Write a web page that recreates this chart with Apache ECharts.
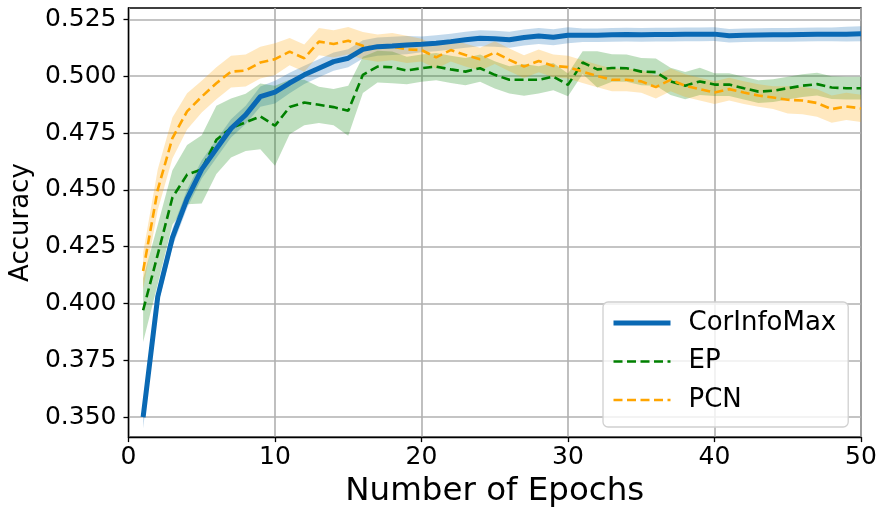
<!DOCTYPE html>
<html>
<head>
<meta charset="utf-8">
<script src="https://cdn.jsdelivr.net/npm/echarts@6/dist/echarts.min.js"></script>
<style>
html,body{margin:0;padding:0;background:#fff;}
#chart{width:881px;height:513px;}
</style>
</head>
<body>
<div id="chart"></div>
<script>
var epochs = [1,2,3,4,5,6,7,8,9,10,11,12,13,14,15,16,17,18,19,20,21,22,23,24,25,26,27,28,29,30,31,32,33,34,35,36,37,38,39,40,41,42,43,44,45,46,47,48,49,50];

var corinfomax = [0.350,0.403,0.429,0.446,0.459,0.468,0.477,0.483,0.491,0.493,0.497,0.5006,0.5035,0.5064,0.5079,0.5118,0.513,0.5133,0.5137,0.514,0.5145,0.5152,0.516,0.5167,0.5165,0.516,0.517,0.5177,0.5171,0.518,0.518,0.518,0.5182,0.5183,0.5182,0.5183,0.5183,0.5184,0.5184,0.5185,0.5178,0.518,0.5181,0.5182,0.5182,0.5183,0.5184,0.5184,0.5185,0.5187];
var corinfomaxStd = [0.005,0.004,0.004,0.004,0.004,0.004,0.004,0.004,0.0045,0.005,0.0045,0.004,0.004,0.004,0.004,0.004,0.004,0.004,0.004,0.0035,0.0035,0.0035,0.0035,0.0035,0.0035,0.0035,0.0035,0.0035,0.0035,0.0035,0.003,0.003,0.003,0.003,0.003,0.003,0.003,0.003,0.003,0.003,0.003,0.003,0.003,0.003,0.003,0.003,0.003,0.003,0.0032,0.0033];

var ep = [0.397,0.4216,0.4466,0.4567,0.459,0.472,0.4772,0.4797,0.4823,0.4782,0.4864,0.4884,0.4874,0.4864,0.4848,0.5006,0.5042,0.5039,0.5025,0.5035,0.5042,0.503,0.502,0.5035,0.5006,0.4984,0.4984,0.4984,0.4998,0.4962,0.506,0.503,0.5036,0.5035,0.502,0.5018,0.4977,0.4958,0.4977,0.4963,0.4963,0.4947,0.4932,0.4936,0.4947,0.4958,0.4965,0.495,0.4947,0.4947];
var epStd = [0.014,0.013,0.012,0.013,0.015,0.015,0.013,0.0126,0.0145,0.0176,0.012,0.010,0.008,0.008,0.011,0.008,0.007,0.007,0.006,0.006,0.006,0.006,0.006,0.006,0.006,0.006,0.007,0.006,0.006,0.005,0.005,0.008,0.006,0.006,0.006,0.006,0.006,0.006,0.006,0.005,0.005,0.005,0.005,0.005,0.005,0.005,0.005,0.005,0.005,0.005];

var pcn = [0.4143,0.4501,0.4728,0.4845,0.491,0.4969,0.502,0.5025,0.506,0.5075,0.5108,0.5079,0.5152,0.5142,0.5156,0.5134,0.5123,0.513,0.5118,0.5115,0.5083,0.5115,0.5093,0.5075,0.5104,0.5072,0.5042,0.5067,0.5045,0.504,0.502,0.5001,0.4984,0.4984,0.4977,0.4952,0.4984,0.4958,0.4943,0.4928,0.4943,0.4928,0.4915,0.4906,0.4896,0.4893,0.4882,0.4855,0.4867,0.4858];
var pcnStd = [0.008,0.009,0.009,0.008,0.007,0.007,0.007,0.007,0.007,0.007,0.006,0.006,0.006,0.006,0.006,0.006,0.006,0.006,0.006,0.005,0.005,0.005,0.005,0.005,0.005,0.005,0.005,0.005,0.005,0.005,0.005,0.005,0.005,0.005,0.005,0.005,0.005,0.005,0.005,0.005,0.005,0.005,0.005,0.005,0.006,0.006,0.006,0.006,0.006,0.006];

var yTicks = [0.350,0.375,0.400,0.425,0.450,0.475,0.500,0.525];
var xTicks = [0,10,20,30,40,50];

var FONT = 'DejaVu Sans';

function pairs(vals){ return epochs.map(function(e,i){ return [e, vals[i]]; }); }

function bandSeries(name, mean, std, color){
  var data = epochs.map(function(e,i){ return [e, mean[i]-std[i], mean[i]+std[i]]; });
  return {
    name: name+'_band', type:'custom', data: data, z:1, silent:true, clip:true,
    encode:{x:0, y:[1,2]},
    renderItem: function(params, api){
      if (params.dataIndex !== 0) return null;
      var top = [], bot = [];
      for (var i = 0; i < data.length; i++){
        top.push(api.coord([data[i][0], data[i][2]]));
        bot.push(api.coord([data[i][0], data[i][1]]));
      }
      var pts = top.concat(bot.reverse());
      return {type:'polygon', shape:{points:pts}, style:{fill:color, stroke:null}};
    },
    animation:false
  };
}

var chart = echarts.init(document.getElementById('chart'), null, {renderer:'canvas'});
var series = [
  bandSeries('CorInfoMax', corinfomax, corinfomaxStd, 'rgba(10,105,180,0.25)'),
  bandSeries('EP', ep, epStd, 'rgba(0,128,0,0.25)'),
  bandSeries('PCN', pcn, pcnStd, 'rgba(255,165,0,0.25)'),
  {name:'CorInfoMax', type:'line', data: pairs(corinfomax), symbol:'none', z:4,
   lineStyle:{color:'#0a69b4', width:5}, itemStyle:{color:'#0a69b4'}, animation:false},
  {name:'EP', type:'line', data: pairs(ep), symbol:'none', z:3,
   lineStyle:{color:'#008000', width:2.6, type:[9,4.5]}, itemStyle:{color:'#008000'}, animation:false},
  {name:'PCN', type:'line', data: pairs(pcn), symbol:'none', z:3,
   lineStyle:{color:'#ffa500', width:2.6, type:[9,4.5]}, itemStyle:{color:'#ffa500'}, animation:false}
];

chart.setOption({
  animation:false,
  backgroundColor:'#ffffff',
  textStyle:{fontFamily:FONT},
  grid:{left:125, right:20, top:8, bottom:74, show:true, borderColor:'#000', borderWidth:1.3, backgroundColor:'transparent'},
  legend:{
    data:[
      {name:'CorInfoMax', lineStyle:{width:5, color:'#0a69b4'}},
      {name:'EP', lineStyle:{width:2.6, color:'#008000', type:[9,4.5]}},
      {name:'PCN', lineStyle:{width:2.6, color:'#ffa500', type:[9,4.5]}}
    ],
    orient:'vertical', left:603, top:302,
    padding:[6,12,12,8], itemGap:8.5, itemWidth:57, itemHeight:30,
    itemStyle:{opacity:0},
    backgroundColor:'rgba(255,255,255,0.8)', borderColor:'#d0d0d0', borderWidth:1.3, borderRadius:5,
    textStyle:{fontSize:26, color:'#000', fontFamily:FONT, lineHeight:30, padding:[0,0,0,13]}
  },
  xAxis:{
    type:'value', min:0, max:50, interval:10,
    name:'Number of Epochs', nameLocation:'middle', nameGap:37,
    nameTextStyle:{fontSize:32.5, color:'#000', fontFamily:FONT},
    axisLine:{show:true, lineStyle:{color:'#000', width:1.3}},
    axisTick:{show:true, inside:false, length:5, lineStyle:{color:'#000', width:1.3}},
    axisLabel:{fontSize:25, color:'#000', margin:8, fontFamily:FONT},
    splitLine:{show:true, lineStyle:{color:'#b0b0b0', width:1.6}}
  },
  yAxis:{
    type:'value', min:0.3412, max:0.53,
    name:'Accuracy', nameLocation:'middle', nameGap:88,
    nameTextStyle:{fontSize:26, color:'#000', fontFamily:FONT},
    axisLine:{show:true, lineStyle:{color:'#000', width:1.3}},
    axisTick:{show:true, inside:false, length:5, lineStyle:{color:'#000', width:1.3}, customValues:yTicks},
    axisLabel:{fontSize:25, color:'#000', margin:12, fontFamily:FONT, customValues:yTicks,
      formatter:function(v){ return v.toFixed(3); }},
    splitLine:{show:true, lineStyle:{color:'#b0b0b0', width:1.6}, customValues:yTicks}
  },
  series: series
});
</script>
</body>
</html>
